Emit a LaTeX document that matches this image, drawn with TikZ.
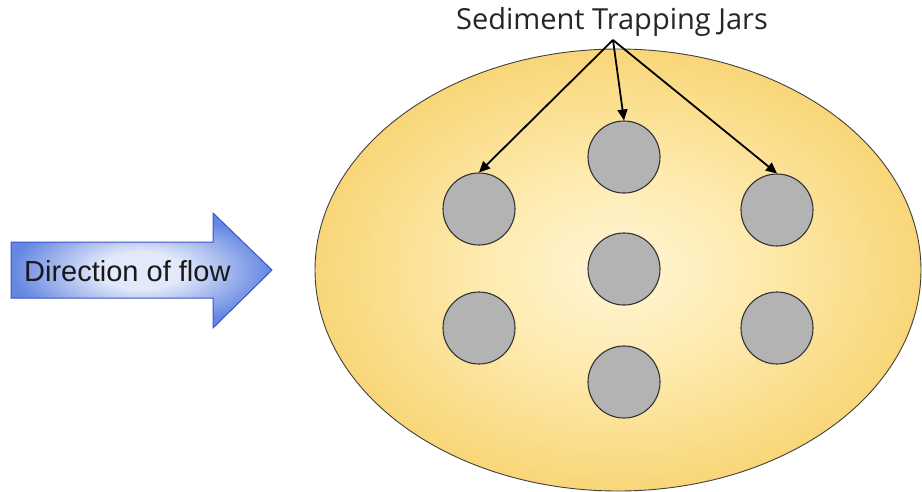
\documentclass[tikz,border=0pt]{standalone}
\usepackage{fontspec}
\newfontfamily\arialf{Liberation Sans}
\newfontfamily\opensans{Open Sans}
\usetikzlibrary{arrows.meta,shapes.geometric}
\definecolor{pondin}{HTML}{FFF5D6}
\definecolor{pondmid}{HTML}{FEEBB0}
\definecolor{pondout}{HTML}{F9D678}
\definecolor{flowin}{HTML}{E2E9FA}
\definecolor{flowout}{HTML}{6586E2}
\definecolor{flowedge}{HTML}{3A55C8}
\definecolor{jargray}{HTML}{B3B3B3}
\pgfdeclareradialshading{pondshade}{\pgfpoint{0bp}{0bp}}{color(0bp)=(pondin); color(11bp)=(pondmid); color(25bp)=(pondout); color(50bp)=(pondout)}
\pgfdeclareradialshading{flowshade}{\pgfpoint{0bp}{0bp}}{color(0bp)=(flowin); color(8bp)=(flowin); color(25bp)=(flowout); color(50bp)=(flowout)}
\tikzset{
  jar/.style={circle, draw=black!80, line width=1.1pt, fill=jargray, minimum size=72pt, inner sep=0pt},
  pointer/.style={draw=black, line width=1.8pt, -{Triangle[length=11pt,width=10pt]}},
}
\begin{document}
\begin{tikzpicture}[x=1pt,y=-1pt]
\useasboundingbox (0,0) rectangle (922,491);
% pond
\node[ellipse, draw=black!75, line width=0.9pt, shading=pondshade,
      minimum width=606pt, minimum height=442pt, inner sep=0pt] (pond) at (618,270) {};
% jars
\node[jar] (j1) at (479,209) {};
\node[jar] (j2) at (624,157) {};
\node[jar] (j3) at (777,210) {};
\node[jar] (j4) at (624,269) {};
\node[jar] (j5) at (479,328) {};
\node[jar] (j6) at (777,328) {};
\node[jar] (j7) at (624,382) {};
% label and pointers
\node[font=\opensans\fontsize{29}{32}\selectfont, text=black!85, inner sep=0pt] (lbl) at (612,22) {Sediment Trapping Jars};
\coordinate (src) at (613,40);
\draw[pointer] (src) -- (j1.north);
\draw[pointer] (src) -- (j2.north);
\draw[pointer] (src) -- (j3.north);
% flow arrow
\path[draw=flowedge, line width=1pt, shading=flowshade]
  (11,242) -- (213,242) -- (213,213) -- (272,270) -- (213,328) -- (213,298) -- (11,298) -- cycle;
\node[font=\arialf\fontsize{29}{32}\selectfont, text=black!90, inner sep=0pt, anchor=west] (flow) at (24,271) {Direction of flow};
\end{tikzpicture}
\end{document}
